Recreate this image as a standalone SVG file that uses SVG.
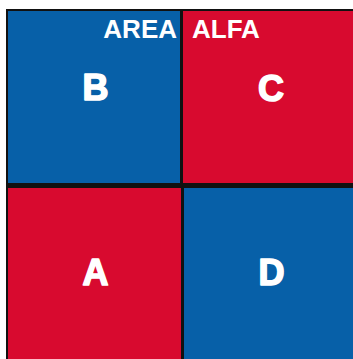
<svg xmlns="http://www.w3.org/2000/svg" width="353" height="359" viewBox="0 0 353 359">
<style>
.blue{fill:#0760a8}
.red{fill:#d80a2f}
.lbl{font-family:"Liberation Sans",Arial,sans-serif;font-weight:bold;fill:#ffffff}
.big{font-size:36px;text-anchor:middle;stroke:#ffffff;stroke-width:1.6;stroke-linejoin:round}
.title{font-size:26px}
</style>
<rect x="0" y="0" width="353" height="359" fill="#ffffff"/>
<rect x="6" y="9" width="347" height="350" fill="#111111"/>
<g id="B"><rect class="blue" x="8" y="11" width="172" height="172"/><text class="lbl big" x="95.5" y="99.5">B</text></g>
<g id="C"><rect class="red" x="183" y="11" width="170" height="172"/><text class="lbl big" x="271" y="100.5">C</text></g>
<g id="A"><rect class="red" x="8" y="188" width="173" height="171"/><text class="lbl big" x="95.5" y="284.5">A</text></g>
<g id="D"><rect class="blue" x="184" y="188" width="169" height="171"/><text class="lbl big" x="271.5" y="284.5">D</text></g>
<g id="title"><text class="lbl title" x="177" y="38" text-anchor="end">AREA</text><text class="lbl title" x="192" y="38">ALFA</text></g>
<g id="connectors"/>
</svg>
